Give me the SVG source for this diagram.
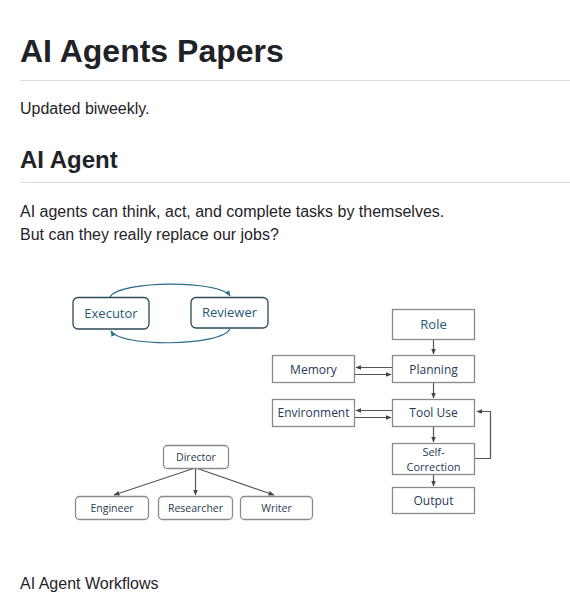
<svg xmlns="http://www.w3.org/2000/svg" width="570" height="616" viewBox="0 0 570 616">
<style>
.h{font-family:"Liberation Sans",Arial,sans-serif;font-weight:bold;fill:#1f2328}
.p{font-family:"Liberation Sans",Arial,sans-serif;font-size:16px;fill:#1f2328}
.rule{stroke:#d8dee4;stroke-width:1}
.rb{fill:#fff;stroke:#2b4a5a;stroke-width:1.3}
.gb{fill:#fff;stroke:#8a8a8a;stroke-width:1.3}
.t1{font-family:"Open Sans","Noto Sans",sans-serif;font-size:13px;fill:#1f5a78;text-anchor:middle}
.t2{font-family:"Open Sans","Noto Sans",sans-serif;font-size:12px;fill:#1f3a5a;text-anchor:middle}
.t4{font-family:"Open Sans","Noto Sans",sans-serif;font-size:11px;fill:#1f3a5a;text-anchor:middle}
.t3{font-family:"Open Sans","Noto Sans",sans-serif;font-size:10.5px;fill:#2a3a50;text-anchor:middle}
.c1{fill:none;stroke:#2a6a8a;stroke-width:1.2}
.c2{fill:none;stroke:#555;stroke-width:1.2}
</style>
<defs>
<marker id="a1" viewBox="0 0 10 10" refX="9" refY="5" markerWidth="5" markerHeight="5" orient="auto"><path d="M0,1 L10,5 L0,9 z" fill="#2a6a8a"/></marker>
<marker id="a2" viewBox="0 0 10 10" refX="9" refY="5" markerWidth="5" markerHeight="5" orient="auto"><path d="M0,1 L10,5 L0,9 z" fill="#444"/></marker>
</defs>
<rect width="570" height="616" fill="#fff"/>
<text class="h" x="20" y="62" font-size="32">AI Agents Papers</text>
<line class="rule" x1="20" y1="80.5" x2="570" y2="80.5"/>
<text class="p" x="20" y="114">Updated biweekly.</text>
<text class="h" x="20" y="168" font-size="24">AI Agent</text>
<line class="rule" x1="20" y1="182.5" x2="570" y2="182.5"/>
<text class="p" x="20" y="217">AI agents can think, act, and complete tasks by themselves.</text>
<text class="p" x="20" y="240">But can they really replace our jobs?</text>
<text class="p" x="20" y="589">AI Agent Workflows</text>

<g id="connectors">
<path class="c1" d="M110,297 C120,280 220,280 230,296" marker-end="url(#a1)"/>
<path class="c1" d="M230,329 C220,347 120,347 111,331" marker-end="url(#a1)"/>
<line class="c2" x1="433.5" y1="339" x2="433.5" y2="354" marker-end="url(#a2)"/>
<line class="c2" x1="433.5" y1="382" x2="433.5" y2="398" marker-end="url(#a2)"/>
<line class="c2" x1="433.5" y1="426" x2="433.5" y2="442" marker-end="url(#a2)"/>
<line class="c2" x1="433.5" y1="474" x2="433.5" y2="486" marker-end="url(#a2)"/>
<line class="c2" x1="392" y1="367.5" x2="356" y2="367.5" marker-end="url(#a2)"/>
<line class="c2" x1="355" y1="374.5" x2="391" y2="374.5" marker-end="url(#a2)"/>
<line class="c2" x1="392" y1="410.5" x2="356" y2="410.5" marker-end="url(#a2)"/>
<line class="c2" x1="355" y1="417.5" x2="391" y2="417.5" marker-end="url(#a2)"/>
<path class="c2" d="M475,458.5 H490.5 V411.5 H477" marker-end="url(#a2)"/>
<line class="c2" x1="195" y1="468" x2="114" y2="495" marker-end="url(#a2)"/>
<line class="c2" x1="195.5" y1="468" x2="195.5" y2="495" marker-end="url(#a2)"/>
<line class="c2" x1="196" y1="468" x2="274" y2="495" marker-end="url(#a2)"/>
</g>

<g id="executor"><rect class="rb" x="73" y="297.5" width="76" height="31.5" rx="5"/><text class="t1" x="111" y="318">Executor</text></g>
<g id="reviewer"><rect class="rb" x="191" y="297.5" width="77" height="30.5" rx="5"/><text class="t1" x="229.5" y="317">Reviewer</text></g>

<g id="role"><rect class="gb" x="392.5" y="309.5" width="82" height="30"/><text class="t1" x="433.5" y="329">Role</text></g>
<g id="planning"><rect class="gb" x="392.5" y="355.5" width="82" height="27"/><text class="t2" x="433.5" y="373.5">Planning</text></g>
<g id="memory"><rect class="gb" x="272.5" y="355.5" width="82" height="27"/><text class="t2" x="313.5" y="373.5">Memory</text></g>
<g id="tooluse"><rect class="gb" x="392.5" y="399.5" width="82" height="27"/><text class="t2" x="433.5" y="417">Tool Use</text></g>
<g id="environment"><rect class="gb" x="272.5" y="399.5" width="82" height="27"/><text class="t2" x="313.5" y="417">Environment</text></g>
<g id="selfcorrection"><rect class="gb" x="392.5" y="443.5" width="82" height="31"/><text class="t4" x="433.5" y="455.5">Self-</text><text class="t4" x="433.5" y="470.5">Correction</text></g>
<g id="output"><rect class="gb" x="392.5" y="487.5" width="82" height="26"/><text class="t2" x="433.5" y="505">Output</text></g>

<g id="director"><rect class="gb" x="163.5" y="445.5" width="65" height="23" rx="4"/><text class="t3" x="196" y="461">Director</text></g>
<g id="engineer"><rect class="gb" x="75.5" y="496.5" width="73" height="23" rx="4"/><text class="t3" x="112" y="512">Engineer</text></g>
<g id="researcher"><rect class="gb" x="158.5" y="496.5" width="74" height="23" rx="4"/><text class="t3" x="195.5" y="512">Researcher</text></g>
<g id="writer"><rect class="gb" x="240.5" y="496.5" width="72" height="23" rx="4"/><text class="t3" x="276.5" y="512">Writer</text></g>
</svg>
